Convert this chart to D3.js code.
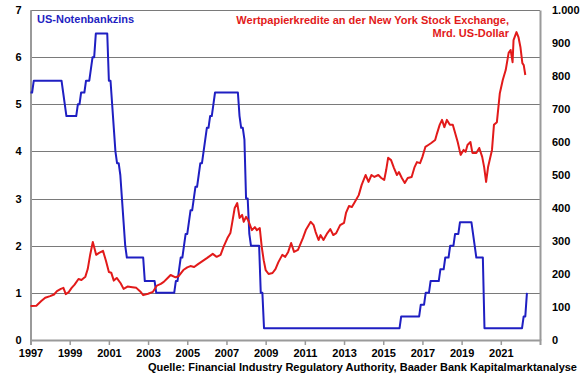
<!DOCTYPE html>
<html lang="de">
<head>
<meta charset="utf-8">
<script src="https://d3js.org/d3.v7.min.js"></script>
<style type="text/css">
body { margin: 0; background: #fff; }
svg { display: block; font-family: "Liberation Sans", Arial, sans-serif; }
.axis text { font-size: 11px; font-weight: bold; fill: #000; }
.title { font-size: 11px; font-weight: bold; }
</style>
</head>
<body>
<script type="text/javascript">

// US-Notenbankzins (Obergrenze), Monatsende, Jan 1997 - Mai 2022
var fedStartYear = 1997;
var fedRate = [
  5.25,5.25,5.5,5.5,5.5,5.5,5.5,5.5,5.5,5.5,5.5,5.5,          // 1997
  5.5,5.5,5.5,5.5,5.5,5.5,5.5,5.5,5.25,5.0,4.75,4.75,         // 1998
  4.75,4.75,4.75,4.75,4.75,5.0,5.0,5.25,5.25,5.25,5.5,5.5,    // 1999
  5.5,5.75,6.0,6.0,6.5,6.5,6.5,6.5,6.5,6.5,6.5,6.5,           // 2000
  5.5,5.5,5.0,4.5,4.0,3.75,3.75,3.5,3.0,2.5,2.0,1.75,         // 2001
  1.75,1.75,1.75,1.75,1.75,1.75,1.75,1.75,1.75,1.75,1.25,1.25, // 2002
  1.25,1.25,1.25,1.25,1.25,1.0,1.0,1.0,1.0,1.0,1.0,1.0,       // 2003
  1.0,1.0,1.0,1.0,1.0,1.25,1.25,1.5,1.75,1.75,2.0,2.25,       // 2004
  2.25,2.5,2.75,2.75,3.0,3.25,3.25,3.5,3.75,3.75,4.0,4.25,    // 2005
  4.5,4.5,4.75,4.75,5.0,5.25,5.25,5.25,5.25,5.25,5.25,5.25,   // 2006
  5.25,5.25,5.25,5.25,5.25,5.25,5.25,5.25,4.75,4.5,4.5,4.25,  // 2007
  3.0,3.0,2.25,2.0,2.0,2.0,2.0,2.0,2.0,1.0,1.0,0.25,          // 2008
  0.25,0.25,0.25,0.25,0.25,0.25,0.25,0.25,0.25,0.25,0.25,0.25, // 2009
  0.25,0.25,0.25,0.25,0.25,0.25,0.25,0.25,0.25,0.25,0.25,0.25, // 2010
  0.25,0.25,0.25,0.25,0.25,0.25,0.25,0.25,0.25,0.25,0.25,0.25, // 2011
  0.25,0.25,0.25,0.25,0.25,0.25,0.25,0.25,0.25,0.25,0.25,0.25, // 2012
  0.25,0.25,0.25,0.25,0.25,0.25,0.25,0.25,0.25,0.25,0.25,0.25, // 2013
  0.25,0.25,0.25,0.25,0.25,0.25,0.25,0.25,0.25,0.25,0.25,0.25, // 2014
  0.25,0.25,0.25,0.25,0.25,0.25,0.25,0.25,0.25,0.25,0.25,0.5,  // 2015
  0.5,0.5,0.5,0.5,0.5,0.5,0.5,0.5,0.5,0.5,0.5,0.75,           // 2016
  0.75,0.75,1.0,1.0,1.0,1.25,1.25,1.25,1.25,1.25,1.25,1.5,    // 2017
  1.5,1.5,1.75,1.75,1.75,2.0,2.0,2.0,2.25,2.25,2.25,2.5,      // 2018
  2.5,2.5,2.5,2.5,2.5,2.5,2.5,2.25,2.0,1.75,1.75,1.75,        // 2019
  1.75,1.75,0.25,0.25,0.25,0.25,0.25,0.25,0.25,0.25,0.25,0.25, // 2020
  0.25,0.25,0.25,0.25,0.25,0.25,0.25,0.25,0.25,0.25,0.25,0.25, // 2021
  0.25,0.25,0.5,0.5,1.0                                        // 2022
];

// Wertpapierkredite NYSE, Mrd. US-Dollar
var marginDates = [
  1997.00,1997.30,1997.55,1997.75,1998.00,1998.20,1998.35,1998.55,1998.68,1998.80,
  1998.95,1999.10,1999.25,1999.45,1999.60,1999.80,1999.92,2000.05,2000.18,2000.35,
  2000.50,2000.70,2000.85,2001.00,2001.12,2001.25,2001.40,2001.60,2001.75,2001.95,
  2002.20,2002.40,2002.60,2002.75,2003.00,2003.25,2003.45,2003.65,2003.80,2004.00,
  2004.15,2004.40,2004.55,2004.80,2005.00,2005.16,2005.35,2005.55,2005.70,2006.00,
  2006.30,2006.50,2006.70,2006.85,2007.05,2007.20,2007.30,2007.42,2007.55,2007.67,
  2007.80,2007.88,2008.00,2008.10,2008.30,2008.45,2008.55,2008.70,2008.80,2008.90,
  2009.00,2009.15,2009.35,2009.50,2009.65,2009.85,2010.00,2010.15,2010.30,2010.45,
  2010.65,2010.90,2011.05,2011.30,2011.45,2011.55,2011.70,2011.80,2011.95,2012.15,
  2012.30,2012.45,2012.60,2012.80,2013.00,2013.10,2013.25,2013.40,2013.55,2013.75,
  2013.90,2014.10,2014.25,2014.40,2014.55,2014.75,2014.90,2015.05,2015.15,2015.25,
  2015.40,2015.55,2015.70,2015.80,2015.95,2016.10,2016.25,2016.45,2016.60,2016.72,
  2016.88,2017.00,2017.15,2017.30,2017.45,2017.65,2017.75,2017.88,2018.00,2018.12,
  2018.25,2018.40,2018.55,2018.80,2018.95,2019.10,2019.20,2019.30,2019.45,2019.55,
  2019.75,2019.90,2020.05,2020.15,2020.25,2020.35,2020.55,2020.65,2020.80,2020.95,
  2021.10,2021.25,2021.40,2021.50,2021.60,2021.65,2021.80,2021.90,2022.00,2022.10,
  2022.17,2022.25
];
var marginDebt = [
  103,104,118,128,133,138,148,155,158,139,
  145,158,168,185,182,192,215,260,297,258,
  264,270,240,206,204,180,188,172,155,162,
  160,158,147,136,140,146,165,170,176,188,
  197,190,193,212,220,224,221,230,236,248,
  261,252,258,282,309,324,358,400,415,370,
  379,358,373,364,333,342,333,339,282,242,
  212,200,203,215,236,258,252,267,294,267,
  273,309,333,358,348,327,303,318,303,324,
  336,318,324,348,355,385,406,403,418,439,
  470,500,479,500,494,500,491,485,515,552,
  545,521,500,509,491,476,491,494,524,539,
  536,555,585,591,597,606,627,652,667,645,
  667,652,652,600,561,576,570,591,600,567,
  567,582,555,524,479,524,576,652,660,748,
  788,818,870,879,842,909,933,918,888,839,
  833,803
];

var leftTicks = [0, 1, 2, 3, 4, 5, 6, 7];
var rightTicks = [0, 100, 200, 300, 400, 500, 600, 700, 800, 900, 1000];
var yearTicks = [1997, 1999, 2001, 2003, 2005, 2007, 2009, 2011, 2013, 2015, 2017, 2019, 2021];

var width = 580;
var height = 375;
var plotL = 30.5, plotR = 540, plotT = 10, plotB = 340;

var blue = "#1f1fc2";
var red = "#e21a1a";

var de = d3.formatLocale({decimal: ",", thousands: ".", grouping: [3], currency: ["", " €"]});

var svg = d3.select("body")
  .append("svg")
  .attr("width", width)
  .attr("height", height);

var x = d3.scaleLinear().domain([1997, 2023]).range([plotL, plotR]);
var yL = d3.scaleLinear().domain([0, 7]).range([plotB, plotT]);
var yR = d3.scaleLinear().domain([0, 1000]).range([plotB, plotT]);

// gridlines
svg.append("g")
  .selectAll("line")
  .data(leftTicks.slice(1))
  .enter()
  .append("line")
  .attr("x1", plotL)
  .attr("x2", plotR)
  .attr("y1", function(d) { return Math.round(yL(d)) + 0.5; })
  .attr("y2", function(d) { return Math.round(yL(d)) + 0.5; })
  .attr("stroke", "#7a7a7a")
  .attr("stroke-width", 1);

// axes
svg.append("g")
  .attr("class", "axis")
  .attr("transform", "translate(" + plotL + ",0)")
  .call(d3.axisLeft(yL).tickValues(leftTicks).tickSize(0).tickPadding(9).tickFormat(d3.format("d")));

svg.append("g")
  .attr("class", "axis")
  .attr("transform", "translate(" + plotR + ",0)")
  .call(d3.axisRight(yR).tickValues(rightTicks).tickSize(0).tickPadding(12).tickFormat(de.format(",d")));

svg.append("g")
  .attr("class", "axis")
  .attr("transform", "translate(0," + plotB + ")")
  .call(d3.axisBottom(x).tickValues(yearTicks).tickSize(5).tickPadding(4).tickFormat(d3.format("d")));

svg.selectAll(".axis .domain").attr("stroke", "#9a9a9a").attr("stroke-width", 2);
svg.selectAll(".axis .tick line").attr("stroke", "#9a9a9a").attr("stroke-width", 1.5);

// Fed funds line
var fedData = fedRate.map(function(v, i) { return {t: fedStartYear + i / 12, v: v}; });
svg.append("path")
  .datum(fedData)
  .attr("fill", "none")
  .attr("stroke", blue)
  .attr("stroke-width", 2)
  .attr("stroke-linejoin", "round")
  .attr("d", d3.line().x(function(d) { return x(d.t); }).y(function(d) { return yL(d.v); }));

// margin debt line
var marginData = marginDates.map(function(t, i) { return {t: t, v: marginDebt[i]}; });
svg.append("path")
  .datum(marginData)
  .attr("fill", "none")
  .attr("stroke", red)
  .attr("stroke-width", 2)
  .attr("stroke-linejoin", "round")
  .attr("d", d3.line().x(function(d) { return x(d.t); }).y(function(d) { return yR(d.v); }));

// titles
svg.append("text")
  .attr("class", "title")
  .attr("x", 37)
  .attr("y", 23)
  .attr("fill", blue)
  .text("US-Notenbankzins");

svg.append("text")
  .attr("class", "title")
  .attr("x", 509)
  .attr("y", 24)
  .attr("text-anchor", "end")
  .attr("fill", red)
  .text("Wertpapierkredite an der New York Stock Exchange,");

svg.append("text")
  .attr("class", "title")
  .attr("x", 509)
  .attr("y", 37)
  .attr("text-anchor", "end")
  .attr("fill", red)
  .text("Mrd. US-Dollar");

svg.append("text")
  .attr("class", "title")
  .attr("x", 577)
  .attr("y", 371)
  .attr("text-anchor", "end")
  .attr("fill", "#000")
  .text("Quelle: Financial Industry Regulatory Authority, Baader Bank Kapitalmarktanalyse");

</script>
</body>
</html>
